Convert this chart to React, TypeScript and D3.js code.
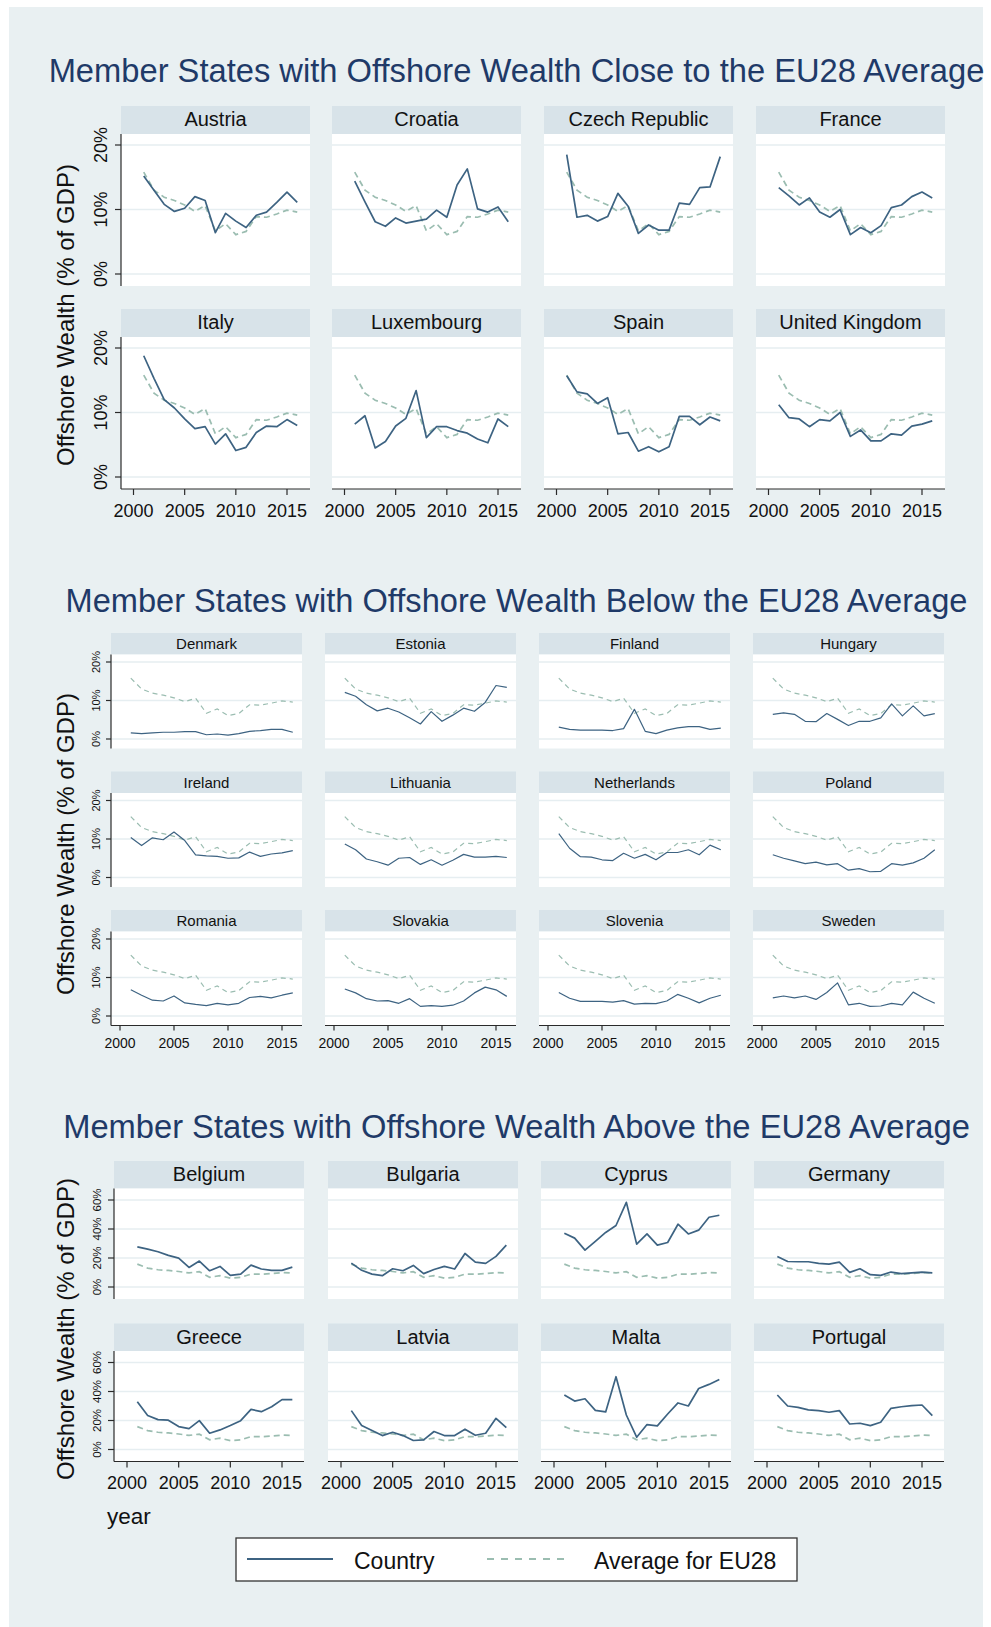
import * as d3 from "d3";

// years on the x axis
const years = [2001, 2002, 2003, 2004, 2005, 2006, 2007, 2008, 2009, 2010, 2011, 2012, 2013, 2014, 2015, 2016];
const yearTicks = [2000, 2005, 2010, 2015];

// EU28 average, % of GDP
const eu28Average = [15.8, 13.0, 11.9, 11.4, 10.7, 9.7, 10.6, 6.7, 7.8, 6.1, 6.6, 8.9, 8.8, 9.3, 9.9, 9.6];

// close to the average
const austria = [15.2, 13.0, 10.8, 9.7, 10.2, 12.0, 11.4, 6.4, 9.4, 8.2, 7.2, 9.1, 9.6, 11.1, 12.7, 11.1];
const croatia = [14.4, 11.2, 8.1, 7.4, 8.7, 7.9, 8.2, 8.5, 9.9, 8.8, 13.8, 16.3, 10.1, 9.6, 10.4, 8.1];
const czechRepublic = [18.5, 8.8, 9.1, 8.2, 8.9, 12.5, 10.5, 6.3, 7.6, 6.8, 6.8, 11.0, 10.8, 13.4, 13.5, 18.2];
const france = [13.4, 12.1, 10.7, 11.8, 9.6, 8.8, 10.0, 6.1, 7.2, 6.4, 7.5, 10.3, 10.7, 12.0, 12.7, 11.8];
const italy = [18.8, 15.3, 12.0, 10.7, 9.0, 7.5, 7.8, 5.1, 6.7, 4.1, 4.6, 6.9, 7.9, 7.8, 8.9, 8.0];
const luxembourg = [8.2, 9.5, 4.5, 5.5, 7.9, 9.1, 13.4, 6.1, 7.8, 7.8, 7.2, 6.8, 5.9, 5.3, 9.0, 7.8];
const spain = [15.7, 13.2, 12.9, 11.4, 12.3, 6.7, 6.9, 4.0, 4.7, 3.9, 4.7, 9.4, 9.4, 8.1, 9.3, 8.7];
const unitedKingdom = [11.2, 9.2, 9.0, 7.8, 8.9, 8.7, 10.0, 6.3, 7.3, 5.6, 5.6, 6.7, 6.5, 7.9, 8.2, 8.7];

// below the average
const denmark = [1.6, 1.4, 1.6, 1.75, 1.75, 1.9, 1.9, 1.1, 1.3, 1.0, 1.4, 2.0, 2.2, 2.5, 2.5, 1.75];
const estonia = [12.1, 11.1, 8.9, 7.3, 8.0, 7.0, 5.5, 3.9, 7.1, 4.6, 6.2, 8.0, 7.2, 9.5, 13.9, 13.4];
const finland = [3.1, 2.5, 2.3, 2.3, 2.3, 2.2, 2.7, 7.7, 2.0, 1.4, 2.3, 2.9, 3.2, 3.2, 2.5, 2.8];
const hungary = [6.4, 6.8, 6.4, 4.6, 4.5, 6.6, 5.1, 3.5, 4.6, 4.6, 5.5, 9.1, 6.0, 8.6, 6.0, 6.6];
const ireland = [10.4, 8.3, 10.3, 9.8, 11.8, 9.6, 5.9, 5.6, 5.5, 5.0, 5.1, 6.6, 5.5, 6.1, 6.4, 7.0];
const lithuania = [8.7, 7.2, 4.8, 4.1, 3.2, 5.0, 5.2, 3.4, 4.6, 3.2, 4.5, 6.0, 5.3, 5.3, 5.5, 5.2];
const netherlands = [11.4, 7.6, 5.4, 5.3, 4.6, 4.4, 6.3, 5.0, 6.0, 4.6, 6.5, 6.5, 7.2, 5.9, 8.4, 7.2];
const poland = [5.9, 5.0, 4.3, 3.6, 4.0, 3.3, 3.6, 1.9, 2.3, 1.5, 1.6, 3.6, 3.2, 3.8, 5.0, 7.2];
const romania = [6.8, 5.4, 4.1, 3.9, 5.2, 3.4, 3.0, 2.7, 3.3, 2.9, 3.3, 4.8, 5.1, 4.7, 5.4, 6.0];
const slovakia = [7.0, 6.0, 4.5, 3.9, 4.0, 3.3, 4.5, 2.5, 2.7, 2.5, 2.8, 3.9, 6.0, 7.5, 6.8, 5.1];
const slovenia = [6.1, 4.6, 3.8, 3.8, 3.8, 3.6, 4.0, 3.1, 3.3, 3.2, 3.9, 5.6, 4.6, 3.4, 4.6, 5.4];
const sweden = [4.7, 5.2, 4.7, 5.2, 4.3, 6.1, 8.6, 2.9, 3.3, 2.5, 2.6, 3.3, 2.9, 6.2, 4.6, 3.3];

// above the average
const belgium = [27.7, 26.1, 24.3, 21.8, 19.9, 13.5, 17.9, 11.2, 14.2, 8.0, 8.9, 15.1, 12.4, 11.5, 11.5, 13.7];
const bulgaria = [16.5, 11.5, 8.9, 7.8, 12.6, 11.2, 14.9, 9.2, 12.1, 14.2, 12.4, 23.1, 17.2, 16.3, 21.1, 28.9];
const cyprus = [37.1, 33.7, 25.4, 31.4, 37.6, 42.4, 58.4, 29.6, 36.6, 28.9, 30.7, 43.3, 36.6, 39.2, 48.1, 49.5];
const germany = [21.1, 17.6, 17.4, 17.4, 16.3, 15.8, 17.2, 10.1, 12.6, 8.5, 8.0, 10.3, 9.2, 9.8, 10.3, 9.8];
const greece = [33.0, 23.4, 20.6, 20.2, 15.8, 14.4, 19.9, 11.2, 13.5, 16.5, 19.9, 27.7, 26.1, 29.5, 34.4, 34.4];
const latvia = [26.8, 16.5, 13.1, 9.6, 11.9, 9.6, 6.2, 6.6, 12.4, 9.6, 9.6, 14.0, 9.8, 11.2, 21.5, 15.1];
const malta = [37.6, 33.4, 35.0, 27.0, 25.9, 50.2, 23.8, 8.5, 17.2, 16.3, 24.5, 32.1, 30.0, 42.1, 44.9, 48.3];
const portugal = [37.6, 30.0, 29.1, 27.3, 26.8, 25.7, 26.8, 17.6, 18.1, 16.5, 18.8, 28.4, 29.5, 30.2, 30.7, 23.4];

const closeNames = ["Austria", "Croatia", "Czech Republic", "France", "Italy", "Luxembourg", "Spain", "United Kingdom"];
const closeSeries = [austria, croatia, czechRepublic, france, italy, luxembourg, spain, unitedKingdom];
const belowNames = ["Denmark", "Estonia", "Finland", "Hungary", "Ireland", "Lithuania", "Netherlands", "Poland", "Romania", "Slovakia", "Slovenia", "Sweden"];
const belowSeries = [denmark, estonia, finland, hungary, ireland, lithuania, netherlands, poland, romania, slovakia, slovenia, sweden];
const aboveNames = ["Belgium", "Bulgaria", "Cyprus", "Germany", "Greece", "Latvia", "Malta", "Portugal"];
const aboveSeries = [belgium, bulgaria, cyprus, germany, greece, latvia, malta, portugal];

const smallTicks = [0, 10, 20];
const bigTicks = [0, 20, 40, 60];

const FONT = "'Liberation Sans', Arial, Helvetica, sans-serif";
const countryColor = "#3d6382";
const avgColor = "#9bbdb1";
const headerFill = "#d8e3e9";
const gridColor = "#e6eef1";
const axisColor = "#2a2a2a";

const sections = [
  {
    title: "Member States with Offshore Wealth Close to the EU28 Average",
    titleY: 82, titleSize: 32.7,
    names: closeNames, series: closeSeries, ticks: smallTicks,
    cols: [121, 332, 544, 756], panelW: 189,
    rows: [106, 309], headerH: 28, plotH: 152,
    yZero: 140, yTop: 11,
    x0: 12.5, x1: 166,
    headSize: 20, headBase: 20,
    xLabSize: 18, xLabOff: 28, tickLen: 6,
    yLabSize: 18, yLabOff: 14,
    axisTitleY: 315, lw: 1.7, dash: "6,4",
  },
  {
    title: "Member States with Offshore Wealth Below the EU28 Average",
    titleY: 612, titleSize: 32.6,
    names: belowNames, series: belowSeries, ticks: smallTicks,
    cols: [111, 325, 539, 753], panelW: 191,
    rows: [633, 771.5, 910], headerH: 21.5, plotH: 94,
    yZero: 84.5, yTop: 7.5,
    x0: 9, x1: 171,
    headSize: 15, headBase: 16,
    xLabSize: 14, xLabOff: 22, tickLen: 5,
    yLabSize: 11, yLabOff: 11,
    axisTitleY: 844, lw: 1.2, dash: "5,4",
  },
  {
    title: "Member States with Offshore Wealth Above the EU28 Average",
    titleY: 1138, titleSize: 32.7,
    names: aboveNames, series: aboveSeries, ticks: bigTicks,
    cols: [114, 328, 541, 754], panelW: 190,
    rows: [1161, 1323.5], headerH: 27.5, plotH: 110.5,
    yZero: 98.5, yTop: 11.5,
    x0: 13, x1: 168,
    headSize: 20, headBase: 20,
    xLabSize: 18, xLabOff: 27, tickLen: 6,
    yLabSize: 11.5, yLabOff: 13,
    axisTitleY: 1329, lw: 1.7, dash: "6,4",
  },
];

function Panel({ s, i }) {
  const ncol = s.cols.length;
  const c = i % ncol;
  const r = Math.floor(i / ncol);
  const left = s.cols[c];
  const top = s.rows[r];
  const plotTop = top + s.headerH;
  const plotBottom = plotTop + s.plotH;
  const maxT = s.ticks[s.ticks.length - 1];
  const x = d3.scaleLinear().domain([2000, 2015]).range([left + s.x0, left + s.x1]);
  const y = d3.scaleLinear().domain([0, maxT]).range([plotTop + s.yZero, plotTop + s.yTop]);
  const line = d3.line<number>().x((_, k) => x(years[k])).y((v) => y(v));
  const isLeft = c === 0;
  const isBottom = r === s.rows.length - 1;
  return (
    <g>
      <rect x={left} y={top} width={s.panelW} height={s.headerH} fill={headerFill} />
      <rect x={left} y={plotTop} width={s.panelW} height={s.plotH} fill="#fff" />
      <text x={left + s.panelW / 2} y={top + s.headBase} textAnchor="middle" fontSize={s.headSize} fill="#111">
        {s.names[i]}
      </text>
      {s.ticks.map((t) => (
        <line key={t} x1={left} x2={left + s.panelW} y1={y(t)} y2={y(t)} stroke={gridColor} strokeWidth={1.6} />
      ))}
      <path d={line(eu28Average) ?? ""} fill="none" stroke={avgColor} strokeWidth={s.lw} strokeDasharray={s.dash} />
      <path d={line(s.series[i]) ?? ""} fill="none" stroke={countryColor} strokeWidth={s.lw} strokeLinejoin="round" />
      {isLeft && (
        <g>
          <line x1={left} x2={left} y1={plotTop} y2={plotBottom} stroke={axisColor} strokeWidth={1.2} />
          {s.ticks.map((t) => (
            <g key={t}>
              <line x1={left - s.tickLen} x2={left} y1={y(t)} y2={y(t)} stroke={axisColor} strokeWidth={1.2} />
              <text
                transform={`translate(${left - s.yLabOff},${y(t)}) rotate(-90)`}
                textAnchor="middle"
                fontSize={s.yLabSize}
                fill="#111"
              >
                {`${t}%`}
              </text>
            </g>
          ))}
        </g>
      )}
      {isBottom && (
        <g>
          <line x1={left} x2={left + s.panelW} y1={plotBottom} y2={plotBottom} stroke={axisColor} strokeWidth={1.2} />
          {yearTicks.map((yr) => (
            <g key={yr}>
              <line x1={x(yr)} x2={x(yr)} y1={plotBottom} y2={plotBottom + s.tickLen} stroke={axisColor} strokeWidth={1.2} />
              <text x={x(yr)} y={plotBottom + s.xLabOff} textAnchor="middle" fontSize={s.xLabSize} fill="#111">
                {yr}
              </text>
            </g>
          ))}
        </g>
      )}
    </g>
  );
}

export default function App() {
  return (
    <svg
      width={991}
      height={1627}
      style={{ position: "absolute", left: 0, top: 0 }}
      fontFamily={FONT}
    >
      <rect x={0} y={0} width={991} height={1627} fill="#fff" />
      <rect x={9} y={7} width={974} height={1620} fill="#e9f0f2" />
      {sections.map((s, si) => (
        <g key={si}>
          <text x={516.5} y={s.titleY} textAnchor="middle" fontSize={s.titleSize} fill="#1f3a68">
            {s.title}
          </text>
          <text
            transform={`translate(74,${s.axisTitleY}) rotate(-90)`}
            textAnchor="middle"
            fontSize={24}
            fill="#111"
          >
            Offshore Wealth (% of GDP)
          </text>
          {s.names.map((_, i) => (
            <Panel key={i} s={s} i={i} />
          ))}
        </g>
      ))}
      <text x={107} y={1524} fontSize={22.5} fill="#111">year</text>
      <rect x={236} y={1538} width={561} height={43} fill="#fff" stroke="#333" strokeWidth={1.3} />
      <line x1={247} x2={333} y1={1559} y2={1559} stroke={countryColor} strokeWidth={1.8} />
      <text x={354} y={1569} fontSize={23} fill="#111">Country</text>
      <line x1={487} x2={568} y1={1559} y2={1559} stroke={avgColor} strokeWidth={1.8} strokeDasharray="7,7" />
      <text x={594} y={1569} fontSize={23} fill="#111">Average for EU28</text>
    </svg>
  );
}
